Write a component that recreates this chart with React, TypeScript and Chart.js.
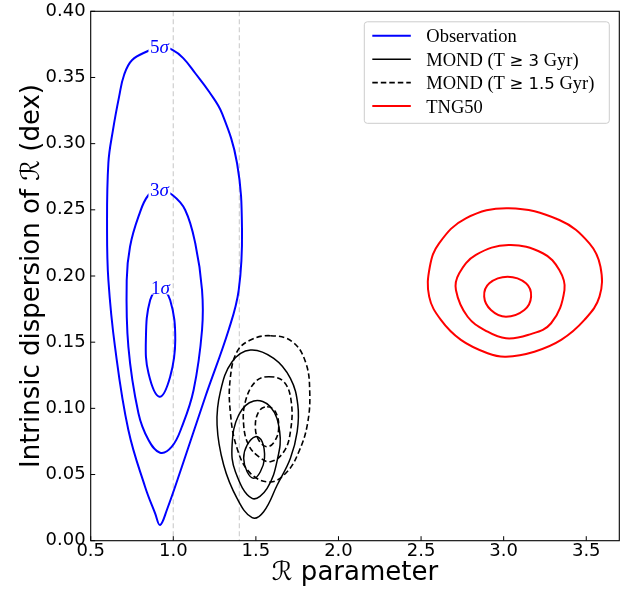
import React, { useEffect, useRef } from "react";
import { Chart, registerables } from "chart.js";

Chart.register(...registerables);

// ---------- data ----------
const xTicks = [0.5, 1.0, 1.5, 2.0, 2.5, 3.0, 3.5];
const yTicks = [0.0, 0.05, 0.1, 0.15, 0.2, 0.25, 0.3, 0.35, 0.4];
const refLines = [1.0, 1.4];

// Observation contours (5, 3, 1 sigma)
const obs5 = [
  [0.920, 0.3735], [0.995, 0.3708], [1.060, 0.3646], [1.133, 0.3532], [1.218, 0.3390],
  [1.295, 0.3229], [1.386, 0.2852], [1.416, 0.2348], [1.396, 0.1894], [1.335, 0.1592],
  [1.194, 0.1088], [1.052, 0.0559], [0.961, 0.0232], [0.920, 0.0119], [0.890, 0.0207],
  [0.829, 0.0408], [0.728, 0.0836], [0.647, 0.1466], [0.607, 0.1970], [0.599, 0.2348],
  [0.607, 0.2854], [0.635, 0.3104], [0.672, 0.3355], [0.702, 0.3519], [0.751, 0.3632],
  [0.850, 0.3702],
];
const obs3 = [
  [0.920, 0.2650], [0.995, 0.2612], [1.072, 0.2499], [1.133, 0.2247], [1.174, 0.1894],
  [1.174, 0.1592], [1.123, 0.1139], [1.052, 0.0861], [0.991, 0.0710], [0.920, 0.0665],
  [0.850, 0.0761], [0.789, 0.0963], [0.728, 0.1466], [0.718, 0.1970], [0.738, 0.2221],
  [0.789, 0.2448], [0.850, 0.2612],
];
const obs1 = [
  [0.920, 0.1909], [0.981, 0.1818], [1.012, 0.1516], [0.981, 0.1239], [0.916, 0.1088],
  [0.850, 0.1265], [0.834, 0.1516], [0.860, 0.1818],
];

// MOND (T >= 3 Gyr), solid
const mond3Outer = [
  [1.467, 0.1441], [1.608, 0.1378], [1.709, 0.1227], [1.754, 0.1025], [1.750, 0.0824],
  [1.709, 0.0623], [1.629, 0.0421], [1.547, 0.0219], [1.477, 0.0174], [1.386, 0.0320],
  [1.305, 0.0572], [1.265, 0.0874], [1.285, 0.1126], [1.356, 0.1352],
];
const mond3Mid = [
  [1.487, 0.1056], [1.588, 0.1012], [1.644, 0.0824], [1.632, 0.0623], [1.568, 0.0396],
  [1.477, 0.0320], [1.376, 0.0521], [1.356, 0.0723], [1.396, 0.0950],
];
const mond3Inner = [
  [1.497, 0.0786], [1.538, 0.0748], [1.552, 0.0623], [1.527, 0.0521], [1.487, 0.0471],
  [1.447, 0.0521], [1.426, 0.0623], [1.447, 0.0723],
];

// MOND (T >= 1.5 Gyr), dashed
const mond15Outer = [
  [1.588, 0.1549], [1.720, 0.1504], [1.800, 0.1352], [1.826, 0.1126], [1.811, 0.0874],
  [1.760, 0.0672], [1.689, 0.0521], [1.588, 0.0444], [1.467, 0.0509], [1.386, 0.0698],
  [1.345, 0.0975], [1.345, 0.1227], [1.386, 0.1428], [1.467, 0.1516],
];
const mond15Mid = [
  [1.578, 0.1239], [1.669, 0.1201], [1.714, 0.1050], [1.709, 0.0824], [1.669, 0.0672],
  [1.588, 0.0597], [1.517, 0.0635], [1.456, 0.0723], [1.426, 0.0874], [1.436, 0.1050],
  [1.497, 0.1201],
];
const mond15Inner = [
  [1.568, 0.1012], [1.618, 0.0975], [1.638, 0.0849], [1.612, 0.0748], [1.568, 0.0710],
  [1.523, 0.0748], [1.497, 0.0849], [1.517, 0.0975],
];

// TNG50
const tngOuter = [
  [3.030, 0.2512], [3.337, 0.2423], [3.519, 0.2247], [3.586, 0.2070], [3.580, 0.1844],
  [3.489, 0.1668], [3.348, 0.1517], [3.186, 0.1428], [3.014, 0.1390], [2.903, 0.1416],
  [2.741, 0.1517], [2.620, 0.1668], [2.549, 0.1844], [2.553, 0.2070], [2.609, 0.2247],
  [2.771, 0.2436],
];
const tngMid = [
  [3.030, 0.2234], [3.237, 0.2172], [3.337, 0.2045], [3.368, 0.1894], [3.287, 0.1643],
  [3.146, 0.1554], [3.014, 0.1529], [2.903, 0.1579], [2.782, 0.1692], [2.711, 0.1894],
  [2.731, 0.2020], [2.832, 0.2159],
];
const tngInner = [
  [3.024, 0.1995], [3.135, 0.1945], [3.166, 0.1844], [3.125, 0.1743], [3.014, 0.1692],
  [2.923, 0.1743], [2.882, 0.1844], [2.913, 0.1945],
];

// contour labels on the observation contours
const sigmaLabels = ["5", "3", "1"];
const sigmaLabelX = [0.916, 0.916, 0.922];
const sigmaLabelY = [0.373, 0.265, 0.1913];

// legend
const legendLabels = ["Observation", "MOND (T ≥ 3 Gyr)", "MOND (T ≥ 1.5 Gyr)", "TNG50"];
const legendColors = ["#0000ff", "#000000", "#000000", "#ff0000"];
const legendDashed = [false, false, true, false];

// ---------- helpers ----------
const toPts = (a: number[][]) => a.map(([x, y]) => ({ x, y }));

const SERIF = '"Liberation Serif", "Times New Roman", serif';
const SANS = '"DejaVu Sans", sans-serif';

function contour(data: number[][], color: string, width: number, dashed = false) {
  return {
    data: toPts(data),
    borderColor: color,
    borderWidth: width,
    borderDash: dashed ? [5.5, 3] : [],
    pointRadius: 0,
    pointHoverRadius: 0,
    fill: false,
    tension: 0.4,
    closed: true,
  } as any;
}

const closeLoops = {
  id: "closeLoops",
  afterDatasetUpdate(chart: any, args: any) {
    const ds = chart.data.datasets[args.index];
    if (!ds || !ds.closed) return;
    const line = chart.getDatasetMeta(args.index).dataset;
    if (!line) return;
    line._loop = true;
    line._fullLoop = true;
    line._pointsUpdated = false;
    line._segments = undefined;
    line._path = undefined;
  },
};

const decorations = {
  id: "decorations",
  beforeDatasetsDraw(chart: any) {
    const { ctx, chartArea, scales } = chart;
    ctx.save();
    ctx.strokeStyle = "#d3d3d3";
    ctx.lineWidth = 1.3;
    ctx.setLineDash([5, 3]);
    for (const v of refLines) {
      const px = scales.x.getPixelForValue(v);
      ctx.beginPath();
      ctx.moveTo(px, chartArea.top);
      ctx.lineTo(px, chartArea.bottom);
      ctx.stroke();
    }
    ctx.restore();
  },
  afterDatasetsDraw(chart: any) {
    const { ctx, scales } = chart;
    ctx.save();
    ctx.textBaseline = "alphabetic";
    for (let i = 0; i < sigmaLabels.length; i++) {
      const cx = scales.x.getPixelForValue(sigmaLabelX[i]);
      const cy = scales.y.getPixelForValue(sigmaLabelY[i]);
      const f1 = `19px ${SERIF}`;
      const f2 = `italic 19px ${SERIF}`;
      ctx.font = f1;
      const w1 = ctx.measureText(sigmaLabels[i]).width;
      ctx.font = f2;
      const w2 = ctx.measureText("σ").width;
      const w = w1 + w2;
      const x0 = cx - w / 2;
      ctx.fillStyle = "#ffffff";
      ctx.fillRect(x0 - 1.5, cy - 8, w + 3, 15);
      ctx.fillStyle = "#0000ff";
      ctx.font = f1;
      ctx.fillText(sigmaLabels[i], x0, cy + 6);
      ctx.font = f2;
      ctx.fillText("σ", x0 + w1, cy + 6);
    }
    ctx.restore();
  },
  afterDraw(chart: any) {
    const { ctx, chartArea, scales } = chart;
    const { left, right, top, bottom } = chartArea;
    ctx.save();
    // spines
    ctx.strokeStyle = "#000";
    ctx.lineWidth = 1.1;
    ctx.setLineDash([]);
    ctx.strokeRect(left, top, right - left, bottom - top);
    // inward ticks
    ctx.lineWidth = 1;
    for (const v of xTicks) {
      const px = scales.x.getPixelForValue(v);
      ctx.beginPath();
      ctx.moveTo(px, bottom);
      ctx.lineTo(px, bottom - 4.5);
      ctx.stroke();
    }
    for (const v of yTicks) {
      const py = scales.y.getPixelForValue(v);
      ctx.beginPath();
      ctx.moveTo(left, py);
      ctx.lineTo(left + 4.5, py);
      ctx.stroke();
    }
    // legend
    const bw = 245;
    const bh = 101.5;
    const bx = right - 10 - bw;
    const by = top + 10.5;
    const r = 3;
    ctx.beginPath();
    ctx.moveTo(bx + r, by);
    ctx.lineTo(bx + bw - r, by);
    ctx.quadraticCurveTo(bx + bw, by, bx + bw, by + r);
    ctx.lineTo(bx + bw, by + bh - r);
    ctx.quadraticCurveTo(bx + bw, by + bh, bx + bw - r, by + bh);
    ctx.lineTo(bx + r, by + bh);
    ctx.quadraticCurveTo(bx, by + bh, bx, by + bh - r);
    ctx.lineTo(bx, by + r);
    ctx.quadraticCurveTo(bx, by, bx + r, by);
    ctx.closePath();
    ctx.fillStyle = "rgba(255,255,255,0.8)";
    ctx.fill();
    ctx.strokeStyle = "#cccccc";
    ctx.lineWidth = 1;
    ctx.stroke();
    for (let i = 0; i < legendLabels.length; i++) {
      const ly = by + 14 + i * 23.4;
      ctx.strokeStyle = legendColors[i];
      ctx.lineWidth = i === 0 || i === 3 ? 2 : 1.6;
      ctx.setLineDash(legendDashed[i] ? [5.5, 3] : []);
      ctx.beginPath();
      ctx.moveTo(bx + 8, ly);
      ctx.lineTo(bx + 46.5, ly);
      ctx.stroke();
      ctx.setLineDash([]);
      ctx.fillStyle = "#000";
      ctx.textBaseline = "alphabetic";
      let tx = bx + 62;
      const m = legendLabels[i].match(/^(.*?)(≥ [\d.]+)(.*)$/);
      const segs = m
        ? [
            { t: m[1], f: `18.5px ${SERIF}` },
            { t: m[2], f: `16.5px ${SANS}` },
            { t: m[3], f: `18.5px ${SERIF}` },
          ]
        : [{ t: legendLabels[i], f: `18.5px ${SERIF}` }];
      for (const s of segs) {
        ctx.font = s.f;
        ctx.fillText(s.t, tx, ly + 6.5);
        tx += ctx.measureText(s.t).width;
      }
    }
    ctx.restore();
  },
};

export default function App() {
  const ref = useRef<HTMLCanvasElement | null>(null);

  useEffect(() => {
    if (!ref.current) return;
    const chart = new Chart(ref.current, {
      type: "line",
      data: {
        datasets: [
          contour(obs5, "#0000ff", 2),
          contour(obs3, "#0000ff", 2),
          contour(obs1, "#0000ff", 2),
          contour(mond3Outer, "#000000", 1.5),
          contour(mond3Mid, "#000000", 1.5),
          contour(mond3Inner, "#000000", 1.5),
          contour(mond15Outer, "#000000", 1.6, true),
          contour(mond15Mid, "#000000", 1.6, true),
          contour(mond15Inner, "#000000", 1.6, true),
          contour(tngOuter, "#ff0000", 2),
          contour(tngMid, "#ff0000", 2),
          contour(tngInner, "#ff0000", 2),
        ],
      },
      options: {
        responsive: false,
        animation: false,
        events: [],
        layout: { padding: { top: 11.3, right: 13.7, left: 0, bottom: 0 } },
        plugins: { legend: { display: false }, tooltip: { enabled: false } },
        scales: {
          x: {
            type: "linear",
            min: 0.5,
            max: 3.7,
            grid: { display: false, drawTicks: false },
            border: { display: false },
            afterBuildTicks: (s: any) => {
              s.ticks = xTicks.map((v) => ({ value: v }));
            },
            afterFit: (s: any) => {
              s.height = 51.3;
            },
            ticks: {
              autoSkip: false,
              maxRotation: 0,
              padding: 0,
              color: "#000",
              font: { family: "DejaVu Sans", size: 18 },
              callback: (v: any) => Number(v).toFixed(1),
            },
            title: {
              display: true,
              text: "ℛ parameter",
              color: "#000",
              font: { family: "DejaVu Sans", size: 26 },
              padding: { top: 0, bottom: 3 },
            },
          },
          y: {
            type: "linear",
            min: 0,
            max: 0.4,
            grid: { display: false, drawTicks: false },
            border: { display: false },
            afterBuildTicks: (s: any) => {
              s.ticks = yTicks.map((v) => ({ value: v }));
            },
            afterFit: (s: any) => {
              s.width = 90.7;
            },
            ticks: {
              autoSkip: false,
              padding: 5,
              color: "#000",
              font: { family: "DejaVu Sans", size: 18, lineHeight: 0.65 },
              callback: (v: any) => Number(v).toFixed(2),
            },
            title: {
              display: true,
              text: "Intrinsic dispersion of ℛ (dex)",
              color: "#000",
              font: { family: "DejaVu Sans", size: 26 },
              padding: { top: 17, bottom: 0 },
            },
          },
        },
      } as any,
      plugins: [closeLoops, decorations],
    });
    return () => chart.destroy();
  }, []);

  return (
    <div style={{ position: "absolute", left: 0, top: 0, width: 633, height: 592, background: "#fff" }}>
      <canvas ref={ref} width={633} height={592} style={{ display: "block" }} />
    </div>
  );
}
